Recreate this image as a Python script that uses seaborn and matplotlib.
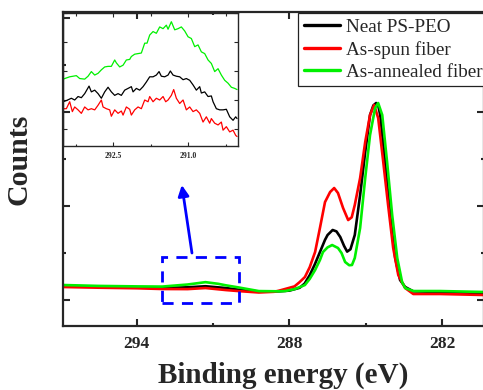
import numpy as np
import pandas as pd
import matplotlib
matplotlib.use('Agg')
import matplotlib.pyplot as plt
import seaborn as sns
from matplotlib.patches import Rectangle
from matplotlib.ticker import MultipleLocator, NullFormatter

# sample names and colours
labels = ['Neat PS-PEO', 'As-spun fiber', 'As-annealed fiber']
colors = ['#000000', '#ff0000', '#00f000']

# main C1s spectra (binding energy in eV, counts)
neat_x = [296.9, 295.5, 294.0, 293.0, 292.0, 291.3, 290.5, 290.0, 289.2, 288.4, 288.0, 287.6, 287.4,
          287.2, 287.0, 286.8, 286.6, 286.5, 286.3, 286.15, 286.0, 285.85, 285.73, 285.6, 285.43,
          285.22, 285.02, 284.83, 284.7, 284.59, 284.5, 284.43, 284.24, 284.04, 283.84, 283.65,
          283.45, 283.13, 282.07, 280.3]
neat_y = [2298, 2285, 2270, 2258, 2270, 2293, 2255, 2220, 2180, 2185, 2200, 2260, 2350,
          2530, 2760, 3020, 3280, 3383, 3490, 3460, 3340, 3150, 3030, 3080, 3383,
          4234, 5149, 5937, 6140, 6192, 6120, 5937, 4937, 3809, 2894, 2426,
          2277, 2185, 2170, 2150]

spun_x = [296.9, 295.5, 294.0, 293.0, 292.0, 291.3, 290.5, 290.0, 289.2, 288.6, 288.4, 288.0, 287.8,
          287.6, 287.39, 287.2, 286.99, 286.8, 286.6, 286.4, 286.24, 286.09, 285.89, 285.69, 285.55,
          285.43, 285.22, 285.02, 284.83, 284.67, 284.51, 284.31, 284.12, 283.92, 283.72, 283.45,
          283.13, 282.07, 280.3]
spun_y = [2277, 2262, 2250, 2234, 2232, 2255, 2212, 2190, 2160, 2175, 2200, 2260, 2290,
          2380, 2489, 2700, 3021, 3532, 4085, 4298, 4383, 4277, 3958, 3702, 3760,
          4022, 4596, 5362, 5937, 6150, 5873, 4937, 4022, 3107, 2532, 2255,
          2128, 2128, 2106]

ann_x = [296.9, 295.5, 294.0, 293.0, 292.5, 292.0, 291.3, 290.8, 290.5, 290.0, 289.2, 288.4, 288.17,
         287.8, 287.39, 287.2, 286.99, 286.8, 286.68, 286.5, 286.32, 286.09, 285.95, 285.81, 285.65,
         285.54, 285.43, 285.22, 285.02, 284.83, 284.63, 284.51, 284.35, 284.16, 283.96, 283.76,
         283.57, 283.45, 283.13, 282.07, 280.3]
ann_y = [2319, 2300, 2290, 2286, 2308, 2330, 2380, 2345, 2313, 2268, 2190, 2185, 2191,
         2230, 2319, 2450, 2638, 2850, 3021, 3120, 3170, 3107, 3000, 2809, 2740,
         2745, 2894, 3532, 4596, 5511, 6086, 6192, 5937, 4937, 3809, 2894,
         2383, 2255, 2191, 2191, 2170]

# inset (zoom of the 293.5 - 290 eV region)
in_ann_x = [293.499, 293.366, 293.233, 293.166, 293.066, 292.999, 292.933, 292.866, 292.799, 292.733,
            292.666, 292.599, 292.533, 292.466, 292.433, 292.366, 292.299, 292.233, 292.166, 292.133,
            292.066, 291.999, 291.933, 291.866, 291.819, 291.766, 291.699, 291.633, 291.566, 291.499,
            291.433, 291.399, 291.333, 291.266, 291.199, 291.133, 291.066, 290.999, 290.933, 290.866,
            290.799, 290.733, 290.666, 290.599, 290.533, 290.466, 290.399, 290.333, 290.266, 290.199,
            290.133, 290.066, 290.019]
in_ann_y = [2286, 2290, 2292, 2287, 2286, 2291, 2299, 2293, 2296, 2302,
            2307, 2308, 2308, 2319, 2314, 2307, 2310, 2319, 2320, 2325,
            2329, 2330, 2331, 2348, 2348, 2362, 2368, 2365, 2376, 2373,
            2379, 2372, 2385, 2371, 2373, 2376, 2369, 2359, 2356, 2342,
            2345, 2333, 2330, 2319, 2313, 2299, 2304, 2293, 2284, 2279,
            2272, 2270, 2268]

in_neat_x = [293.499, 293.433, 293.333, 293.266, 293.199, 293.133, 293.066, 292.979, 292.933, 292.866,
             292.799, 292.733, 292.666, 292.599, 292.533, 292.466, 292.399, 292.333, 292.266, 292.199,
             292.133, 292.099, 292.033, 291.966, 291.899, 291.833, 291.766, 291.699, 291.633, 291.579,
             291.533, 291.466, 291.399, 291.353, 291.299, 291.233, 291.166, 291.099, 291.033, 290.966,
             290.899, 290.833, 290.766, 290.733, 290.666, 290.599, 290.533, 290.499, 290.433, 290.366,
             290.299, 290.233, 290.166, 290.099, 290.046, 290.019]
in_neat_y = [2247, 2249, 2253, 2250, 2256, 2254, 2261, 2274, 2264, 2267,
             2261, 2253, 2264, 2272, 2264, 2258, 2261, 2258, 2267, 2270,
             2273, 2264, 2270, 2267, 2273, 2281, 2290, 2290, 2293, 2299,
             2291, 2290, 2293, 2300, 2293, 2291, 2290, 2285, 2287, 2284,
             2276, 2267, 2273, 2262, 2264, 2256, 2257, 2247, 2235, 2233,
             2233, 2234, 2221, 2215, 2221, 2218]

in_spun_x = [293.499, 293.433, 293.366, 293.313, 293.266, 293.199, 293.133, 293.066, 292.999, 292.933,
             292.866, 292.799, 292.733, 292.699, 292.633, 292.566, 292.533, 292.466, 292.399, 292.333,
             292.299, 292.233, 292.166, 292.133, 292.066, 291.999, 291.933, 291.866, 291.799, 291.766,
             291.699, 291.633, 291.566, 291.499, 291.446, 291.399, 291.333, 291.286, 291.233, 291.166,
             291.099, 291.033, 290.966, 290.899, 290.833, 290.766, 290.699, 290.633, 290.566, 290.533,
             290.466, 290.399, 290.333, 290.299, 290.233, 290.166, 290.099, 290.046, 290.019]
in_spun_y = [2235, 2235, 2247, 2230, 2238, 2233, 2227, 2238, 2233, 2235,
             2233, 2241, 2250, 2238, 2235, 2233, 2222, 2233, 2227, 2231,
             2224, 2238, 2234, 2224, 2233, 2238, 2235, 2250, 2247, 2256,
             2247, 2253, 2250, 2256, 2247, 2250, 2258, 2268, 2253, 2244,
             2250, 2233, 2238, 2230, 2233, 2227, 2212, 2221, 2210, 2218,
             2210, 2207, 2212, 2198, 2204, 2195, 2198, 2189, 2187]


def to_frame(series):
    frames = []
    for name, xs, ys in series:
        frames.append(pd.DataFrame({'energy': xs, 'counts': ys, 'sample': name}))
    return pd.concat(frames, ignore_index=True)


df = to_frame(zip(labels, [neat_x, spun_x, ann_x], [neat_y, spun_y, ann_y]))
df_in = to_frame(zip(labels, [in_neat_x, in_spun_x, in_ann_x], [in_neat_y, in_spun_y, in_ann_y]))
palette = dict(zip(labels, colors))

sns.set_style('ticks')
plt.rcParams['font.family'] = ['Liberation Serif', 'DejaVu Serif']
plt.rcParams['font.weight'] = 'bold'
plt.rcParams['axes.labelweight'] = 'bold'

fig = plt.figure(figsize=(4.83, 3.9), dpi=100)
ax = fig.add_axes([63 / 483, 1 - 326 / 390, 421 / 483, 314 / 390])

sns.lineplot(data=df, x='energy', y='counts', hue='sample', palette=palette,
             estimator=None, linewidth=1.9, ax=ax)

ax.set_xlim(296.9, 280.35)
ax.set_ylim(1447, 8129)
ax.xaxis.set_major_locator(MultipleLocator(6))
ax.xaxis.set_minor_locator(MultipleLocator(3))
ax.yaxis.set_major_locator(MultipleLocator(2000))
ax.yaxis.set_minor_locator(MultipleLocator(1000))
ax.yaxis.set_major_formatter(NullFormatter())
ax.tick_params(which='both', direction='in', top=True, right=True, width=1.5)
ax.tick_params(which='major', length=5, labelsize=12.5, pad=7)
ax.tick_params(which='minor', length=2.5)
for s in ax.spines.values():
    s.set_linewidth(1.6)

ax.set_xlabel('Binding energy (eV)', fontsize=21, fontweight='bold')
ax.set_ylabel('Counts', fontsize=21.5, fontweight='bold')
ax.xaxis.set_label_coords(0.5226, -0.115)
ax.yaxis.set_label_coords(-0.072, 0.53)

handles = ax.get_lines()[:3]
leg = ax.legend(handles, labels, loc='upper left',
                bbox_to_anchor=((298 - 63) / 421, (326 - 13) / 314), borderaxespad=0,
                prop={'size': 13.8, 'weight': 'normal'}, frameon=True, fancybox=False,
                edgecolor='#222222', framealpha=1, handlelength=1.9, handletextpad=0.3,
                labelspacing=0.24, borderpad=0.3)
leg.get_frame().set_linewidth(0.9)
for line in leg.get_lines():
    line.set_linewidth(2.4)

# dashed box marking the zoomed region, plus arrow to the inset
ax.add_patch(Rectangle((293.0, 1936), 289.98 - 293.0, 2915 - 1936, fill=False,
                       edgecolor='#0000ff', linewidth=2, linestyle=(0, (4, 3)), zorder=5))
ax.annotate('', xy=(292.23, 4447), xytext=(291.83, 3000),
            arrowprops=dict(arrowstyle='-|>', color='#0000ff', lw=2,
                            mutation_scale=16, shrinkA=0, shrinkB=0))

# inset
axin = fig.add_axes([63 / 483, 1 - 146 / 390, 175 / 483, 133 / 390], facecolor='none')
sns.lineplot(data=df_in, x='energy', y='counts', hue='sample', palette=palette,
             estimator=None, linewidth=0.9, legend=False, ax=axin)
axin.set_xlim(293.5, 290.0)
axin.set_ylim(2170.7, 2400)
axin.xaxis.set_major_locator(MultipleLocator(1.5))
axin.xaxis.set_minor_locator(MultipleLocator(0.75))
axin.yaxis.set_major_locator(MultipleLocator(50))
axin.yaxis.set_major_formatter(NullFormatter())
axin.set_xlabel('')
axin.set_ylabel('')
axin.tick_params(which='both', direction='in', top=True, right=True, width=0.8)
axin.tick_params(which='major', length=3, labelsize=5.5, pad=4)
axin.tick_params(which='minor', length=1.8)
for s in axin.spines.values():
    s.set_linewidth(1.0)

fig.savefig('out.png', dpi=100)
